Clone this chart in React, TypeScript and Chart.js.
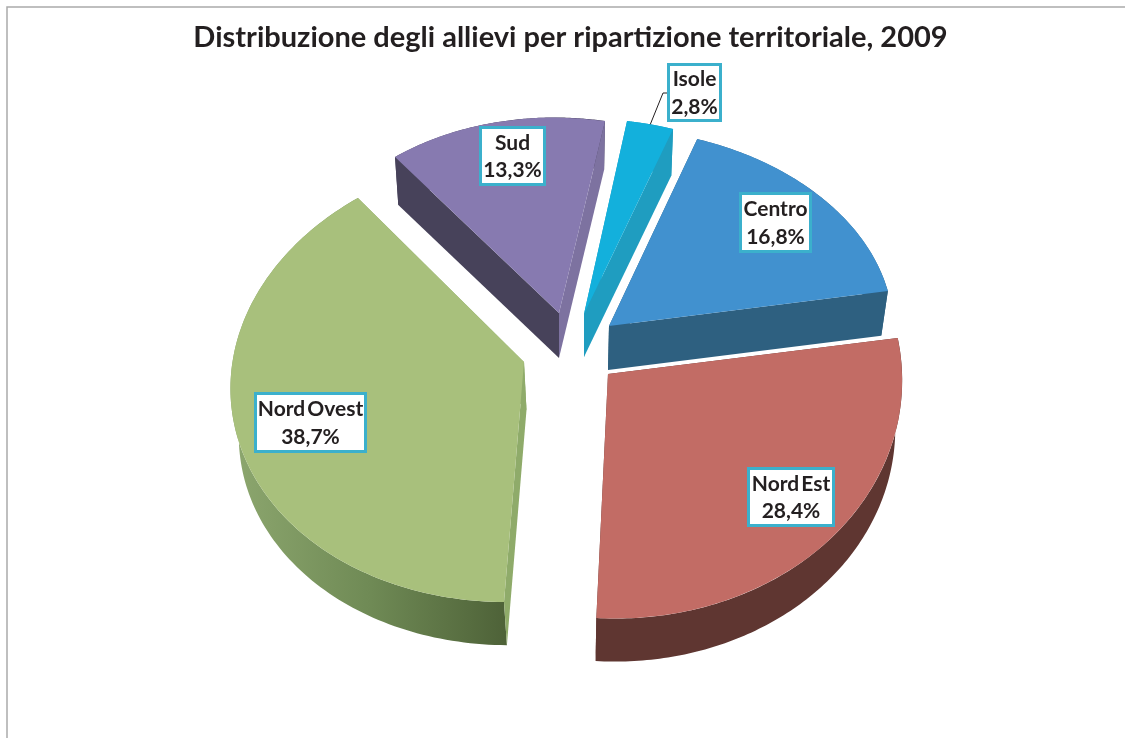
import React, { useEffect, useRef } from "react";
import { Chart, registerables } from "chart.js";

Chart.register(...registerables);

const TITLE = "Distribuzione degli allievi per ripartizione territoriale, 2009";
const categories = ["Centro", "Nord Est", "Nord Ovest", "Sud", "Isole"];
const shares = [16.8, 28.4, 38.7, 13.3, 2.8];
const topColors = ["#4191cf", "#c26c65", "#a8c07c", "#877ab0", "#13b0dc"];

const W = 1125;
const H = 738;
const R = 280;
const FIRST_SLICE_ANGLE = 21.5;
const BOTTOM_SCALE = 0.98;

// View of each slice after the explode and the 3D tilt.
const sliceApex = [[609, 326], [608, 374], [524, 362], [559, 313], [584, 314]];
const sliceMatrix = [
  [284, 17, -7.4, 198],
  [294, 10, -1.9, 244.5],
  [288.9, 2.66, -12.8, 222.96],
  [266.6, 6.9, -2, 195.5],
  [269.9, 10.6, -10.1, 194.8],
];
// Perspective foreshortening of a slice (only the large left slice needs it).
const sliceTilt = [[0, 0], [0, 0], [0.0141, -0.0687], [0, 0], [0, 0]];
const sliceDepth = [[-1, 44], [-1, 48], [2.5, 48], [0, 45], [0, 43]];
const startWall = ["#2e6080", "#5f3631", "#8fab6a", "#47425a", "#1f9dc0"];
const endWall = ["#2e6080", "#5f3631", "#8fab6a", "#7d72a0", "#1f9dc0"];
const outerWall = ["#2e6080", "#5f3631", "", "#47425a", "#1f9dc0"];
const drawOrder = [3, 4, 0, 2, 1];

// Label boxes: left, top, right, bottom.
const labelBoxes = [
  [739, 192, 812, 253],
  [747, 467, 835, 527],
  [254, 392, 367, 453],
  [479, 126, 546, 186],
  [667, 63, 722, 122],
];
const LABEL_FONT = "bold 21px Lato";

function pointOn(i: number, angle: number, bottom: boolean) {
  const [a, b, c, d] = sliceMatrix[i];
  const [p, q] = sliceTilt[i];
  const u = Math.cos(angle);
  const v = Math.sin(angle);
  const w = 1 + p * u + q * v;
  const s = bottom ? BOTTOM_SCALE : 1;
  const ox = sliceApex[i][0] + (bottom ? sliceDepth[i][0] : 0);
  const oy = sliceApex[i][1] + (bottom ? sliceDepth[i][1] : 0);
  return [ox + (s * (a * u + b * v)) / w, oy + (s * (c * u + d * v)) / w];
}

function apexOf(i: number, bottom: boolean) {
  return [
    sliceApex[i][0] + (bottom ? sliceDepth[i][0] : 0),
    sliceApex[i][1] + (bottom ? sliceDepth[i][1] : 0),
  ];
}

function fillPoly(ctx: CanvasRenderingContext2D, pts: number[][], fill: any) {
  ctx.beginPath();
  pts.forEach((p, k) => (k ? ctx.lineTo(p[0], p[1]) : ctx.moveTo(p[0], p[1])));
  ctx.closePath();
  ctx.fillStyle = fill;
  ctx.fill();
}

const pie3d = {
  id: "pie3d",
  beforeDraw(chart: any) {
    const { ctx } = chart;
    ctx.save();
    ctx.strokeStyle = "#aaaaaa";
    ctx.lineWidth = 1.5;
    ctx.beginPath();
    ctx.moveTo(W, 7);
    ctx.lineTo(7, 7);
    ctx.lineTo(7, H);
    ctx.stroke();
    ctx.restore();
  },
  beforeDatasetsDraw(chart: any) {
    const { ctx } = chart;
    const arcs = chart.getDatasetMeta(0).data;
    drawOrder.forEach((i) => {
      const arc = arcs[i];
      const start = arc.startAngle;
      const end = arc.endAngle;
      const steps = 120;
      const top: number[][] = [];
      const low: number[][] = [];
      for (let k = 0; k <= steps; k++) {
        const t = start + ((end - start) * k) / steps;
        top.push(pointOn(i, t, false));
        low.push(pointOn(i, t, true));
      }
      let outerFill: any = outerWall[i];
      if (!outerFill) {
        const g = ctx.createLinearGradient(235, 0, 506, 0);
        g.addColorStop(0, "#8ca66e");
        g.addColorStop(0.5, "#6f8a55");
        g.addColorStop(1, "#4e6238");
        outerFill = g;
      }
      fillPoly(ctx, [...top, ...low.slice().reverse()], outerFill);
      fillPoly(ctx, [apexOf(i, false), top[0], low[0], apexOf(i, true)], startWall[i]);
      fillPoly(ctx, [apexOf(i, false), top[steps], low[steps], apexOf(i, true)], endWall[i]);

      const [p, q] = sliceTilt[i];
      if (p !== 0 || q !== 0) {
        fillPoly(ctx, [apexOf(i, false), ...top], arc.options.backgroundColor);
        return;
      }
      const [a, b, c, d] = sliceMatrix[i];
      const [ax, ay] = sliceApex[i];
      ctx.save();
      ctx.transform(
        a / R,
        c / R,
        b / R,
        d / R,
        ax - (a * arc.x + b * arc.y) / R,
        ay - (c * arc.x + d * arc.y) / R
      );
      arc.draw(ctx);
      ctx.restore();
    });
    return false;
  },
  afterDraw(chart: any) {
    const { ctx } = chart;
    ctx.save();
    ctx.strokeStyle = "#231f20";
    ctx.lineWidth = 1;
    ctx.beginPath();
    const isoleBox = labelBoxes[4];
    const isoleArc = chart.getDatasetMeta(0).data[4];
    const isoleTip = pointOn(4, (isoleArc.startAngle + isoleArc.endAngle) / 2, false);
    ctx.moveTo(isoleBox[0], 93);
    ctx.lineTo(isoleBox[0] - 4, 93);
    ctx.lineTo(isoleTip[0], isoleTip[1]);
    ctx.stroke();

    categories.forEach((name, i) => {
      const [l, t, r, b] = labelBoxes[i];
      ctx.fillStyle = "#ffffff";
      ctx.fillRect(l, t, r - l, b - t);
      ctx.strokeStyle = "#3bb0cc";
      ctx.lineWidth = 3;
      ctx.strokeRect(l + 1.5, t + 1.5, r - l - 3, b - t - 3);
      ctx.fillStyle = "#231f20";
      ctx.font = LABEL_FONT;
      ctx.textAlign = "center";
      ctx.textBaseline = "middle";
      const cx = (l + r) / 2;
      const cy = (t + b) / 2;
      (ctx as any).wordSpacing = "-3px";
      ctx.fillText(name, cx, cy - 13);
      (ctx as any).wordSpacing = "0px";
      ctx.fillText(shares[i].toFixed(1).replace(".", ",") + "%", cx, cy + 14.5);
    });
    ctx.restore();
  },
};

export default function App() {
  const ref = useRef<HTMLCanvasElement | null>(null);
  useEffect(() => {
    document.body.style.margin = "0";
    document.body.style.overflow = "hidden";
    const chart = new Chart(ref.current as HTMLCanvasElement, {
      type: "pie",
      data: {
        labels: categories,
        datasets: [{ data: shares, backgroundColor: topColors, borderWidth: 0 }],
      },
      options: {
        animation: false,
        responsive: false,
        rotation: FIRST_SLICE_ANGLE,
        radius: R,
        layout: { padding: { left: 16 } },
        plugins: {
          legend: { display: false },
          tooltip: { enabled: false },
          title: {
            display: true,
            text: TITLE,
            color: "#231f20",
            font: { family: "Lato", size: 29, weight: "bold" },
            padding: { top: 20, bottom: 10 },
          },
        },
      },
      plugins: [pie3d],
    } as any);
    return () => chart.destroy();
  }, []);
  return (
    <canvas
      ref={ref}
      width={W}
      height={H}
      style={{ display: "block", width: W, height: H, background: "#ffffff" }}
    />
  );
}
